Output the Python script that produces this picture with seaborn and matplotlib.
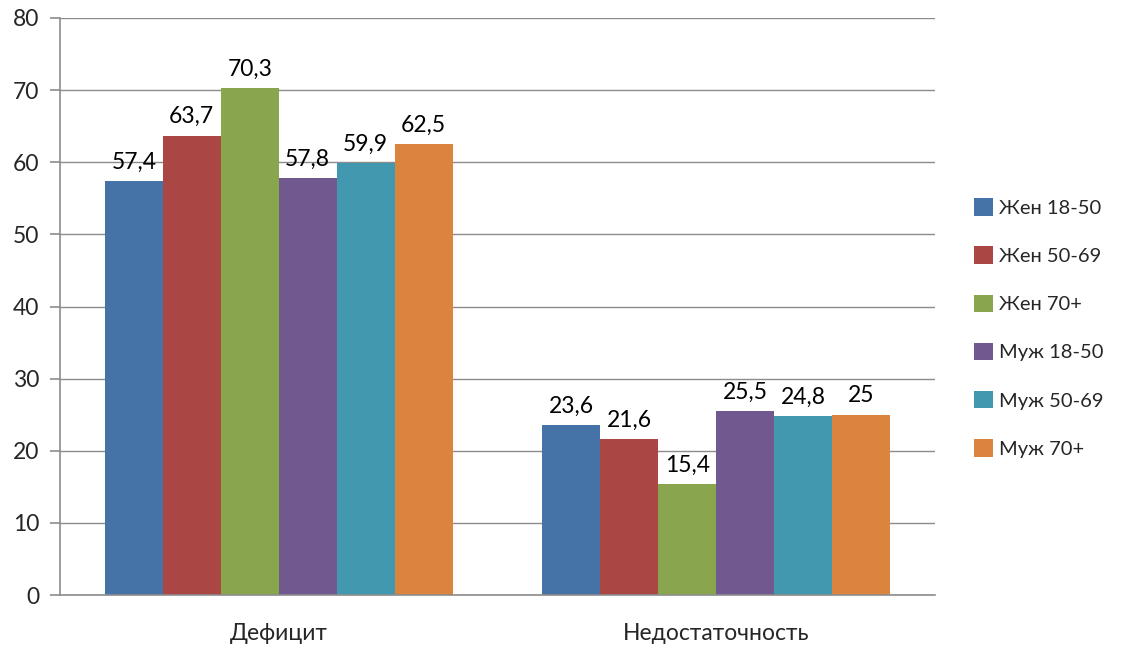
import matplotlib
matplotlib.use("Agg")
import matplotlib.pyplot as plt
import seaborn as sns
import pandas as pd

categories = ["Дефицит", "Недостаточность"]
series = ["Жен 18-50", "Жен 50-69", "Жен 70+", "Муж 18-50", "Муж 50-69", "Муж 70+"]
values = {
    "Жен 18-50": [57.4, 23.6],
    "Жен 50-69": [63.7, 21.6],
    "Жен 70+": [70.3, 15.4],
    "Муж 18-50": [57.8, 25.5],
    "Муж 50-69": [59.9, 24.8],
    "Муж 70+": [62.5, 25.0],
}
colors = ["#4572A7", "#AA4643", "#89A54E", "#71588F", "#4198AF", "#DB843D"]

rows = []
for s in series:
    for c, v in zip(categories, values[s]):
        rows.append({"cat": c, "series": s, "value": v})
df = pd.DataFrame(rows)

sns.set_style("white")
plt.rcParams["font.family"] = ["Lato", "DejaVu Sans"]
FS = 16.5

fig = plt.figure(figsize=(11.23, 6.45), dpi=100)
ax = fig.add_axes([60 / 1123, 1 - 595 / 645, (935 - 60) / 1123, (595 - 18) / 645])

sns.barplot(data=df, x="cat", y="value", hue="series", hue_order=series,
            order=categories, palette=colors, width=0.795, saturation=1,
            ax=ax, legend=True, edgecolor="none", linewidth=0)

def fmt(v):
    s = f"{v:.1f}".replace(".", ",")
    if s.endswith(",0"):
        s = s[:-2]
    return s

for cont in ax.containers:
    ax.bar_label(cont, labels=[fmt(b.get_height()) for b in cont], padding=6,
                 fontsize=FS, color="black")

ax.set_ylim(0, 80)
ax.set_xlim(-0.5, 1.5)
ax.set_yticks(range(0, 81, 10))
ax.yaxis.grid(True, color="#8c8c8c", linewidth=1)
ax.set_axisbelow(True)
for sp in ["top", "right"]:
    ax.spines[sp].set_visible(False)
for sp in ["left", "bottom"]:
    ax.spines[sp].set_color("#8c8c8c")
    ax.spines[sp].set_linewidth(1.2)
ax.set_xticks([0, 1])
ax.set_xticklabels(categories)
ax.set_xticks([-0.5, 0.5, 1.5], minor=True)
ax.tick_params(axis="x", which="major", length=0, pad=20, labelsize=FS)
ax.tick_params(axis="x", which="minor", length=7, direction="out", color="#8c8c8c", width=1.2)
ax.tick_params(axis="y", length=7, direction="out", color="#8c8c8c", width=1.2, labelsize=FS, pad=8, left=True)
ax.set_xlabel("")
ax.set_ylabel("")

ax.get_legend().remove()
handles, labels = ax.get_legend_handles_labels()
fig.legend(handles, labels, loc="center left", bbox_to_anchor=(966 / 1123, 1 - 328 / 645),
           frameon=False, fontsize=14.5, handlelength=0.95, handleheight=0.95,
           handletextpad=0.3, labelspacing=1.47, borderaxespad=0)

fig.savefig("out.png", dpi=100)
